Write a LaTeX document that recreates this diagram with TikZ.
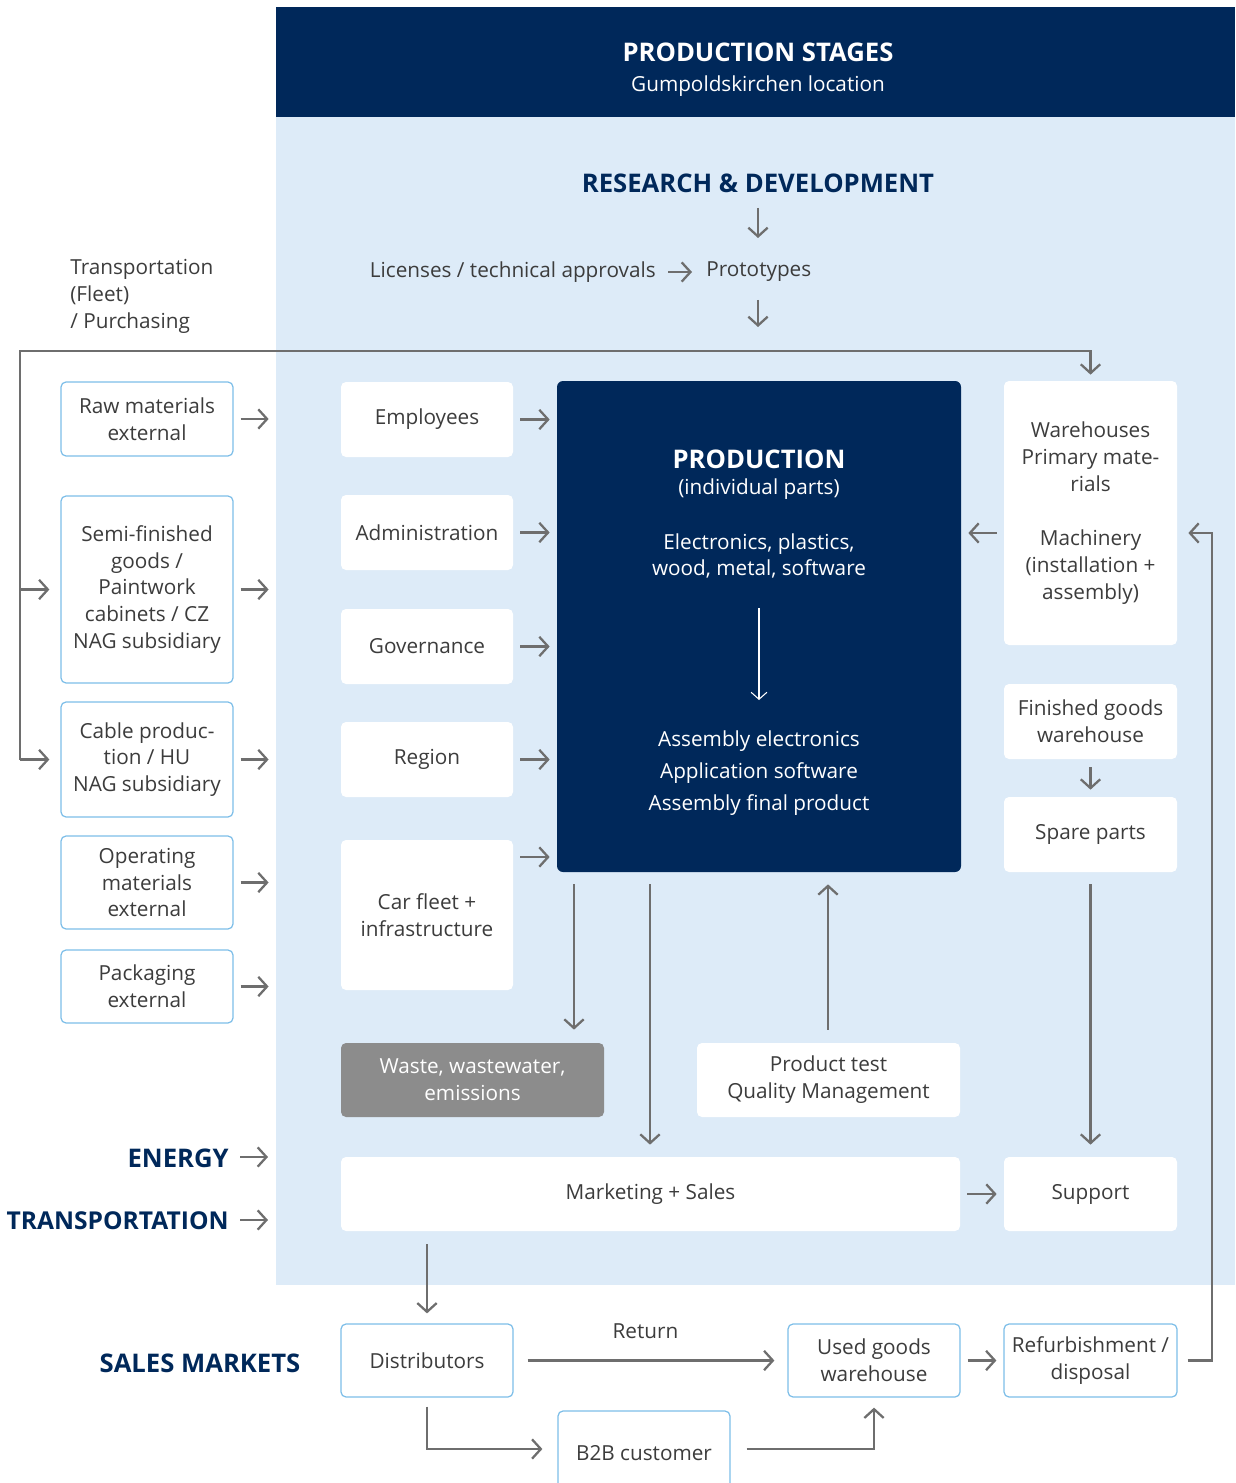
\documentclass[tikz,border=0pt]{standalone}
\usepackage{fontspec}
\setmainfont{Open Sans}
\usetikzlibrary{arrows.meta,calc}
\definecolor{navy}{RGB}{0,40,90}
\definecolor{panel}{RGB}{221,235,248}
\definecolor{bord}{RGB}{125,190,232}
\definecolor{arrg}{RGB}{110,110,110}
\definecolor{txt}{RGB}{60,60,60}
\definecolor{wastec}{RGB}{140,140,140}
\newcommand\pbox[7]{\node[#1, minimum width={(#5-#3)*0.02cm}, minimum height={(#6-#4)*0.02cm}] (#2) at ({(#3+#5)/2},{(#4+#6)/2}) {#7};}
\newcommand\fs{\fontsize{11.8}{15.3}\selectfont}
\newcommand\hfs{\fontsize{14.6}{17}\selectfont}
\begin{document}
\begin{tikzpicture}[x=0.02cm,y=-0.02cm,
  base/.style={rounded corners=0.1cm, align=center, inner sep=2pt, font=\fs, text=txt},
  wbox/.style={base, fill=white},
  lbox/.style={base, fill=white, draw=bord, line width=0.7pt},
  gbox/.style={base, fill=wastec, text=white},
  lbl/.style={inner sep=0pt, font=\fs, text=txt, align=center},
  hdr/.style={inner sep=0pt, font=\bfseries\hfs, text=navy},
  arr/.style={draw=arrg, line width=1.3pt, -{Straight Barb[length=5pt,width=11pt]}},
  warr/.style={draw=white, line width=0.6pt, -{Straight Barb[length=4pt,width=9pt]}}]
\useasboundingbox (0,0) rectangle (1235,1483);
% background panels
\fill[panel] (276,117) rectangle (1235,1285);
\fill[navy] (276,7) rectangle (1235,117);
\node[inner sep=0pt, text=white, font=\bfseries\hfs] (ps) at (758,52) {PRODUCTION STAGES};
\node[inner sep=0pt, text=white, font=\fs] (gl) at (758,86) {Gumpoldskirchen location};

% R&D
\node[hdr] (rd) at (758,183) {RESEARCH \& DEVELOPMENT};
\node[lbl, anchor=east] (lic) at (656,272) {Licenses / technical approvals};
\node[lbl, anchor=west] (proto) at (706,272) {Prototypes};
\draw[arr] ($(rd.center)+(0,25)$) -- ($(rd.center)+(0,55)$);
\draw[arr, shorten <=0.24cm, shorten >=0.28cm] (lic.east) -- (proto.west);
\draw[arr] ($(rd.center |- proto.center)+(0,28)$) -- ($(rd.center |- proto.center)+(0,55)$);

\node[lbl, anchor=north west, align=left] (tf) at (70,259) {Transportation\\(Fleet)\\/ Purchasing};

% left column
\pbox{lbox}{raw}{61}{382}{233}{456}{Raw materials\\external}
\pbox{lbox}{semi}{61}{496}{233}{683}{Semi-finished\\goods /\\Paintwork\\cabinets / CZ\\NAG subsidiary}
\pbox{lbox}{cable}{61}{702}{233}{817}{Cable produc-\\tion / HU\\NAG subsidiary}
\pbox{lbox}{oper}{61}{836}{233}{929}{Operating\\materials\\external}
\pbox{lbox}{pack}{61}{950}{233}{1023}{Packaging\\external}
\foreach \n in {raw,semi,cable,oper,pack}{
  \draw[arr] ($(\n.east)+(7,0)$) -- ($(\n.east)+(35,0)$);
}

% middle column
\pbox{wbox}{emp}{341}{382}{513}{457}{Employees}
\pbox{wbox}{adm}{341}{495}{513}{570}{Administration}
\pbox{wbox}{gov}{341}{609}{513}{684}{Governance}
\pbox{wbox}{reg}{341}{722}{513}{797}{Region}
\pbox{wbox}{car}{341}{840}{513}{990}{Car fleet +\\infrastructure}

% production
\node[fill=navy, rounded corners=0.12cm, minimum width={404*0.02cm}, minimum height={491*0.02cm}, inner sep=0pt] (prod) at (759,626.5) {};
\node[inner sep=0pt, text=white, font=\bfseries\hfs] (pt) at (759,459) {PRODUCTION};
\node[inner sep=0pt, text=white, font=\fs] (pi) at (759,489) {(individual parts)};
\node[inner sep=0pt, text=white, font=\fs, align=center] (pe) at (759,556) {Electronics, plastics,\\wood, metal, software};
\node[inner sep=0pt, text=white, font=\fontsize{11.8}{18.2}\selectfont, align=center] (pa) at (759,773) {Assembly electronics\\Application software\\Assembly final product};
\coordinate (ia) at (759,608);
\coordinate (ib) at (759,700);
\draw[warr] (ia) -- (ib);

\foreach \n in {emp,adm,gov,reg}{
  \draw[arr, shorten <=0.14cm, shorten >=0.14cm] (\n.east) -- (\n.east -| prod.west);
}
\coordinate (c857) at (0,857);
\draw[arr, shorten <=0.14cm, shorten >=0.14cm] (car.east |- c857) -- (prod.west |- c857);

% right column
\pbox{wbox}{wh}{1004}{381}{1177}{645}{Warehouses\\Primary mate-\\rials\\[\baselineskip]Machinery\\(installation +\\assembly)}
\pbox{wbox}{fin}{1004}{684}{1177}{759}{Finished goods\\warehouse}
\pbox{wbox}{spare}{1004}{797}{1177}{872}{Spare parts}
\coordinate (rl) at (1212,533);
\draw[arr, shorten <=0.14cm, shorten >=0.14cm] (wh.west |- rl) -- (prod.east |- rl);
\draw[arr, shorten <=0.16cm, shorten >=0.14cm] (fin.south) -- (spare.north);

% top loop
\coordinate (cl) at (20,351);
\draw[arr, shorten >=0.12cm] (cl |- cable.west) -- (cl) -| (wh.north);
\draw[arr, shorten >=0.22cm] (cl |- semi.west) -- (semi.west);
\draw[arr, shorten >=0.22cm] (cl |- cable.west) -- (cable.west);

% lower middle
\pbox{gbox}{waste}{341}{1043}{604}{1117}{Waste, wastewater,\\emissions}
\pbox{wbox}{test}{697}{1043}{960}{1117}{Product test\\Quality Management}
\pbox{wbox}{mkt}{341}{1157}{960}{1231}{Marketing + Sales}
\pbox{wbox}{sup}{1004}{1157}{1177}{1231}{Support}
\coordinate (xa) at (574,0);
\coordinate (xb) at (650,0);
\coordinate (xc) at (828,0);
\draw[arr, shorten <=0.24cm, shorten >=0.26cm] (prod.south -| xa) -- (waste.north -| xa);
\draw[arr, shorten <=0.24cm, shorten >=0.24cm] (prod.south -| xb) -- (mkt.north -| xb);
\draw[arr, shorten <=0.26cm, shorten >=0.24cm] (test.north -| xc) -- (prod.south -| xc);
\draw[arr, shorten <=0.24cm, shorten >=0.24cm] (spare.south) -- (sup.north);
\draw[arr, shorten <=0.14cm, shorten >=0.14cm] (mkt.east |- sup.west) -- (sup.west);

\node[hdr, anchor=east] (en) at (229,1158) {ENERGY};
\node[hdr, anchor=east, font=\bfseries\fontsize{14}{17}\selectfont] (tr) at (229,1221) {TRANSPORTATION};
\draw[arr] ($(en.east)+(11,-1)$) -- ($(en.east)+(39,-1)$);
\draw[arr] ($(tr.east)+(11,-1)$) -- ($(tr.east)+(39,-1)$);

% sales markets
\node[hdr] (sm) at (200,1363) {SALES MARKETS};
\pbox{lbox}{dist}{341}{1324}{513}{1397}{Distributors}
\pbox{lbox}{used}{788}{1324}{960}{1397}{Used goods\\warehouse}
\pbox{lbox}{ref}{1004}{1324}{1177}{1397}{Refurbishment /\\disposal}
\pbox{lbox}{b2b}{558}{1411}{730}{1495}{B2B customer}
\draw[arr, shorten <=0.26cm, shorten >=0.2cm] (dist.north |- mkt.south) -- (dist.north);
\draw[arr, shorten <=0.28cm, shorten >=0.26cm] (dist.east) -- node[lbl, above=12pt, xshift=-0.1cm] {Return} (used.west);
\draw[arr, shorten <=0.14cm, shorten >=0.14cm] (used.east) -- (ref.west);
\coordinate (b2bm) at (0,1449);
\draw[arr, shorten <=0.18cm, shorten >=0.3cm] (dist.south) |- (b2b.west |- b2bm);
\draw[arr, shorten <=0.32cm, shorten >=0.2cm] (b2b.east |- b2bm) -| (used.south);
\draw[arr, shorten <=0.2cm, shorten >=0.22cm] (ref.east) -| (rl) -- (wh.east |- rl);
\end{tikzpicture}
\end{document}
